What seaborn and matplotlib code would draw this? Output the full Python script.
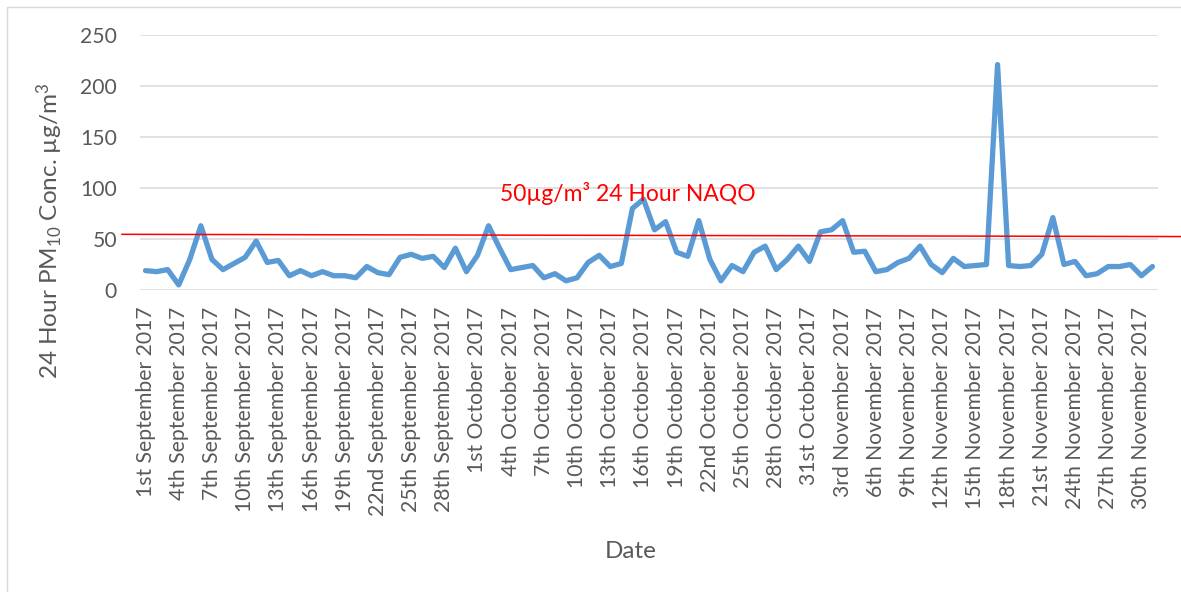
import matplotlib
matplotlib.use("Agg")
import matplotlib.pyplot as plt
from matplotlib.lines import Line2D
import seaborn as sns
import pandas as pd
import numpy as np

# ---------------- data ----------------
pm10 = [19, 18, 20, 5, 30, 63, 30, 20, 26, 32, 48, 27, 29, 14, 19, 14, 18, 14, 14, 12, 23, 17,
        15, 32, 35, 31, 33, 22, 41, 18, 34, 63, 41, 20, 22, 24, 12, 16, 9, 12, 27, 34, 23, 26, 80, 89,
        59, 67, 37, 33, 68, 30, 9, 24, 18, 37, 43, 20, 30, 43, 28, 57, 59, 68, 37, 38, 18, 20, 27, 31, 43,
        25, 17, 31, 23, 24, 25, 221, 24, 23, 24, 35, 71, 25, 28, 14, 16, 23, 23, 25, 14, 23]

tick_labels = [
    "1st September 2017", "4th September 2017", "7th September 2017", "10th September 2017",
    "13th September 2017", "16th September 2017", "19th September 2017", "22nd September 2017",
    "25th September 2017", "28th September 2017", "1st October 2017", "4th October 2017",
    "7th October 2017", "10th October 2017", "13th October 2017", "16th October 2017",
    "19th October 2017", "22nd October 2017", "25th October 2017", "28th October 2017",
    "31st October 2017", "3rd November 2017", "6th November 2017", "9th November 2017",
    "12th November 2017", "15th November 2017", "18th November 2017", "21st November 2017",
    "24th November 2017", "27th November 2017", "30th November 2017",
]
y_ticks = [0, 50, 100, 150, 200, 250]
naqo_line_y = [54.6, 52.4]          # drawn reference line (left end, right end)
naqo_text = "50µg/m³ 24 Hour NAQO"
y_title = "24 Hour PM$_{10}$ Conc. µg/m$^{3}$"
x_title = "Date"

# ---------------- style ----------------
sns.set_theme(style="white")
plt.rcParams["font.family"] = ["Lato", "DejaVu Sans"]
plt.rcParams["mathtext.fontset"] = "custom"
plt.rcParams["mathtext.rm"] = "Lato"
plt.rcParams["mathtext.it"] = "Lato:italic"
plt.rcParams["mathtext.bf"] = "Lato:bold"

W, H = 1181, 592
fig = plt.figure(figsize=(W / 100, H / 100), dpi=100)
ax = fig.add_axes([140 / W, 1 - 290 / H, (1158 - 140) / W, (290 - 35) / H])

df = pd.DataFrame({"idx": np.arange(len(pm10)), "pm10": pm10})
sns.lineplot(data=df, x="idx", y="pm10", ax=ax, color="#5B9BD5", linewidth=3.8,
             solid_joinstyle="round", solid_capstyle="round", clip_on=False, zorder=3)

ax.set_xlim(-0.5, len(pm10) - 0.5)
ax.set_ylim(0, 250)
ax.set_yticks(y_ticks)
ax.set_yticklabels([str(v) for v in y_ticks], fontsize=15.2, color="#595959")
tick_pos = list(range(0, len(tick_labels) * 3, 3))
ax.set_xticks(tick_pos)
ax.set_xticklabels(tick_labels, rotation=90, fontsize=15.2, color="#595959")
ax.tick_params(axis="both", length=0)
ax.tick_params(axis="y", pad=16.5)
ax.tick_params(axis="x", pad=12)
ax.set_xlabel("")
ax.set_ylabel("")
for s in ax.spines.values():
    s.set_visible(False)
ax.yaxis.grid(True, color="#D9D9D9", linewidth=1.1)
ax.xaxis.grid(False)
ax.set_axisbelow(True)

# NAQO reference line (extends beyond plot area to the right edge)
x0 = (121.7 - 140) / (1158 - 140)
x1 = (1181 - 140) / (1158 - 140)
trans = matplotlib.transforms.blended_transform_factory(ax.transAxes, ax.transData)
ax.plot([x0, x1], naqo_line_y, color="#FF0000", linewidth=1.1, transform=trans,
        clip_on=False, zorder=4)
fig.text(628 / W, 1 - 194 / H, naqo_text, color="#FF0000", fontsize=16.5,
         ha="center", va="center")

# axis titles
fig.text(50 / W, 1 - 231 / H, y_title, rotation=90, fontsize=17.5, color="#595959",
         ha="center", va="center")
fig.text(631 / W, 1 - 551 / H, x_title, fontsize=17.5, color="#595959",
         ha="center", va="center")

# chart area border (left and top visible)
fig.add_artist(Line2D([7 / W, 7 / W], [0, 1 - 6.5 / H], transform=fig.transFigure,
                      color="#D9D9D9", linewidth=1.0))
fig.add_artist(Line2D([7 / W, 1], [1 - 6.5 / H, 1 - 6.5 / H], transform=fig.transFigure,
                      color="#D9D9D9", linewidth=1.0))

fig.savefig("out.png", dpi=100)
